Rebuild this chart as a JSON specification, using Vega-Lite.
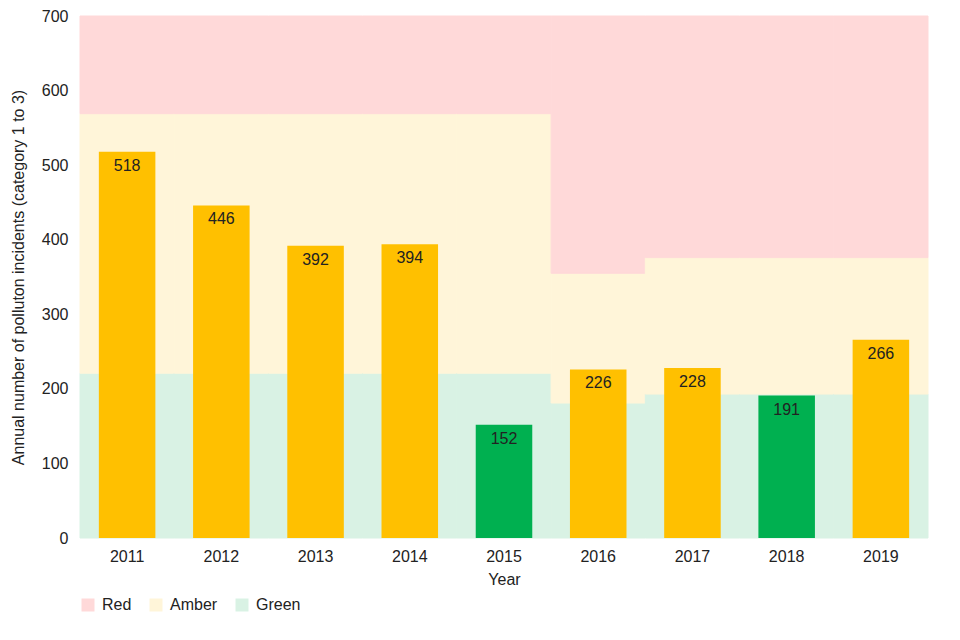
{
  "$schema": "https://vega.github.io/schema/vega-lite/v6.json",
  "width": 848,
  "height": 522,
  "autosize": {"type": "none"},
  "padding": {"left": 80, "top": 16, "right": 32, "bottom": 102},
  "background": "white",
  "config": {
    "view": {"stroke": null},
    "font": "Liberation Sans",
    "axis": {"labelFont": "Liberation Sans", "titleFont": "Liberation Sans", "labelColor": "#222", "titleColor": "#222", "labelFontSize": 16, "titleFontSize": 16, "titleFontWeight": "normal", "grid": false, "ticks": false, "domain": false},
    "legend": {"labelFont": "Liberation Sans", "labelFontSize": 16, "labelColor": "#222"}
  },
  "datasets": {
    "bands": [
      {"year": "2011", "band": "Green", "lo": 0, "hi": 221}, {"year": "2011", "band": "Amber", "lo": 221, "hi": 569}, {"year": "2011", "band": "Red", "lo": 569, "hi": 700},
      {"year": "2012", "band": "Green", "lo": 0, "hi": 221}, {"year": "2012", "band": "Amber", "lo": 221, "hi": 569}, {"year": "2012", "band": "Red", "lo": 569, "hi": 700},
      {"year": "2013", "band": "Green", "lo": 0, "hi": 221}, {"year": "2013", "band": "Amber", "lo": 221, "hi": 569}, {"year": "2013", "band": "Red", "lo": 569, "hi": 700},
      {"year": "2014", "band": "Green", "lo": 0, "hi": 221}, {"year": "2014", "band": "Amber", "lo": 221, "hi": 569}, {"year": "2014", "band": "Red", "lo": 569, "hi": 700},
      {"year": "2015", "band": "Green", "lo": 0, "hi": 221}, {"year": "2015", "band": "Amber", "lo": 221, "hi": 569}, {"year": "2015", "band": "Red", "lo": 569, "hi": 700},
      {"year": "2016", "band": "Green", "lo": 0, "hi": 181}, {"year": "2016", "band": "Amber", "lo": 181, "hi": 355}, {"year": "2016", "band": "Red", "lo": 355, "hi": 700},
      {"year": "2017", "band": "Green", "lo": 0, "hi": 193}, {"year": "2017", "band": "Amber", "lo": 193, "hi": 376}, {"year": "2017", "band": "Red", "lo": 376, "hi": 700},
      {"year": "2018", "band": "Green", "lo": 0, "hi": 193}, {"year": "2018", "band": "Amber", "lo": 193, "hi": 376}, {"year": "2018", "band": "Red", "lo": 376, "hi": 700},
      {"year": "2019", "band": "Green", "lo": 0, "hi": 193}, {"year": "2019", "band": "Amber", "lo": 193, "hi": 376}, {"year": "2019", "band": "Red", "lo": 376, "hi": 700}
    ],
    "incidents": [
      {"year": "2011", "value": 518, "rating": "Amber"},
      {"year": "2012", "value": 446, "rating": "Amber"},
      {"year": "2013", "value": 392, "rating": "Amber"},
      {"year": "2014", "value": 394, "rating": "Amber"},
      {"year": "2015", "value": 152, "rating": "Green"},
      {"year": "2016", "value": 226, "rating": "Amber"},
      {"year": "2017", "value": 228, "rating": "Amber"},
      {"year": "2018", "value": 191, "rating": "Green"},
      {"year": "2019", "value": 266, "rating": "Amber"}
    ]
  },
  "encoding": {
    "x": {"field": "year", "type": "nominal", "title": "Year", "scale": {"paddingInner": 0, "paddingOuter": 0}, "axis": {"labelAngle": 0, "labelPadding": 10, "titlePadding": 7}}
  },
  "layer": [
    {
      "data": {"name": "bands"},
      "mark": {"type": "bar", "width": {"band": 1}, "strokeWidth": 1},
      "encoding": {
        "y": {"field": "lo", "type": "quantitative", "scale": {"domain": [0, 700]}, "axis": {"values": [0, 100, 200, 300, 400, 500, 600, 700], "labelPadding": 12, "titlePadding": 15}, "title": "Annual number of polluton incidents (category 1 to 3)"},
        "y2": {"field": "hi"},
        "color": {"field": "band", "type": "nominal", "scale": {"domain": ["Red", "Amber", "Green"], "range": ["#FFD9D9", "#FFF5D9", "#D9F2E4"]},
          "legend": {"title": null, "orient": "bottom", "direction": "horizontal", "symbolType": "square", "symbolSize": 169, "symbolStrokeWidth": 0, "columnPadding": 16, "offset": 10, "labelOffset": 6}},
        "stroke": {"field": "band", "type": "nominal", "scale": {"domain": ["Red", "Amber", "Green"], "range": ["#FFD9D9", "#FFF5D9", "#D9F2E4"]}, "legend": null}
      }
    },
    {
      "data": {"name": "incidents"},
      "mark": {"type": "bar", "width": {"band": 0.6}},
      "encoding": {
        "y": {"field": "value", "type": "quantitative"},
        "color": {"field": "rating", "type": "nominal", "scale": {"domain": ["Amber", "Green"], "range": ["#FFC000", "#00B050"]}, "legend": null}
      }
    },
    {
      "data": {"name": "incidents"},
      "mark": {"type": "text", "baseline": "top", "dy": 6, "fontSize": 16, "color": "#222"},
      "encoding": {
        "y": {"field": "value", "type": "quantitative"},
        "text": {"field": "value", "type": "quantitative"}
      }
    }
  ],
  "resolve": {"scale": {"color": "independent", "stroke": "independent"}}
}
